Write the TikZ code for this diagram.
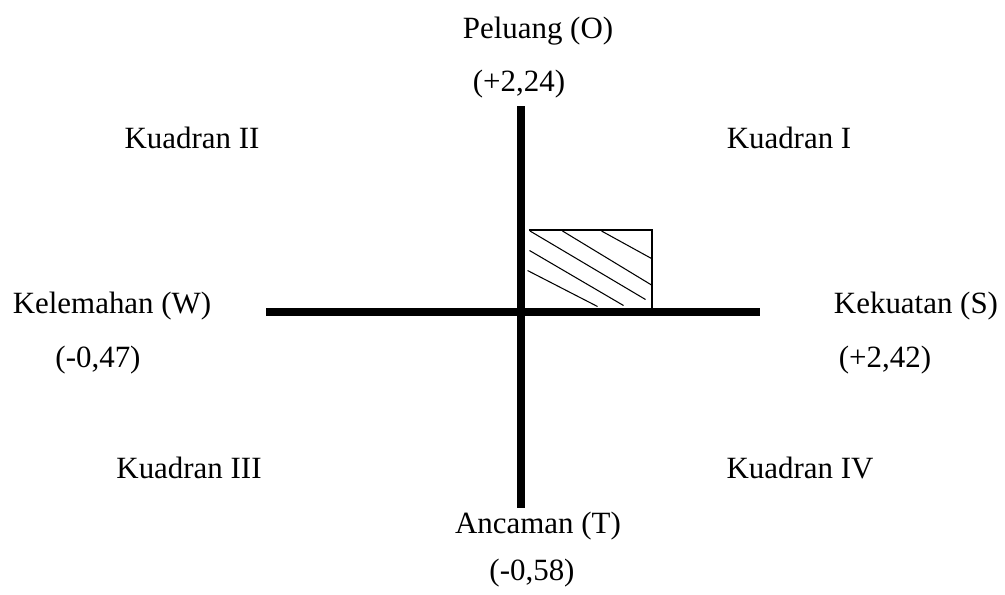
\documentclass[tikz,border=0pt]{standalone}
\usepackage{fontspec}
\setmainfont{Liberation Serif}
\begin{document}
\begin{tikzpicture}[font=\fontsize{17.6}{21}\selectfont,
  lbl/.style={anchor=base,inner sep=0pt},
  axisline/.style={line width=4.4pt},
  hatchline/.style={line width=0.6pt}]
  \useasboundingbox (0,0) rectangle (20.1,11.88);
  % axes
  \coordinate (top) at (10.42,9.76);
  \coordinate (bottom) at (10.42,1.72);
  \coordinate (left) at (5.32,5.64);
  \coordinate (right) at (15.20,5.64);
  \draw[axisline] (top) -- (bottom);
  \draw[axisline] (left) -- (right);

  % hatched area (quadrant I)
  \draw[hatchline] (10.58,7.28) -- (13.04,7.28) -- (13.04,5.64);
  \draw[hatchline] (10.60,7.26) -- (12.91,5.89);
  \draw[hatchline] (11.25,7.26) -- (13.03,6.18);
  \draw[hatchline] (12.03,7.26) -- (13.03,6.71);
  \draw[hatchline] (10.59,6.87) -- (12.47,5.77);
  \draw[hatchline] (10.55,6.47) -- (11.95,5.75);

  % axis labels
  \node[lbl] (peluang) at (10.76,11.10) {Peluang (O)};
  \node[lbl] (peluangval) at (10.38,10.06) {(+2,24)};
  \node[lbl] (kelemahan) at (2.24,5.62) {Kelemahan (W)};
  \node[lbl] (kelemahanval) at (1.96,4.54) {(-0,47)};
  \node[lbl] (kekuatan) at (18.32,5.62) {Kekuatan (S)};
  \node[lbl] (kekuatanval) at (17.70,4.54) {(+2,42)};
  \node[lbl] (ancaman) at (10.76,1.22) {Ancaman (T)};
  \node[lbl] (ancamanval) at (10.64,0.28) {(-0,58)};

  % quadrants
  \node[lbl] (q1) at (15.78,8.92) {Kuadran I};
  \node[lbl] (q2) at (3.84,8.92) {Kuadran II};
  \node[lbl] (q3) at (3.78,2.32) {Kuadran III};
  \node[lbl] (q4) at (16.00,2.32) {Kuadran IV};
\end{tikzpicture}
\end{document}
